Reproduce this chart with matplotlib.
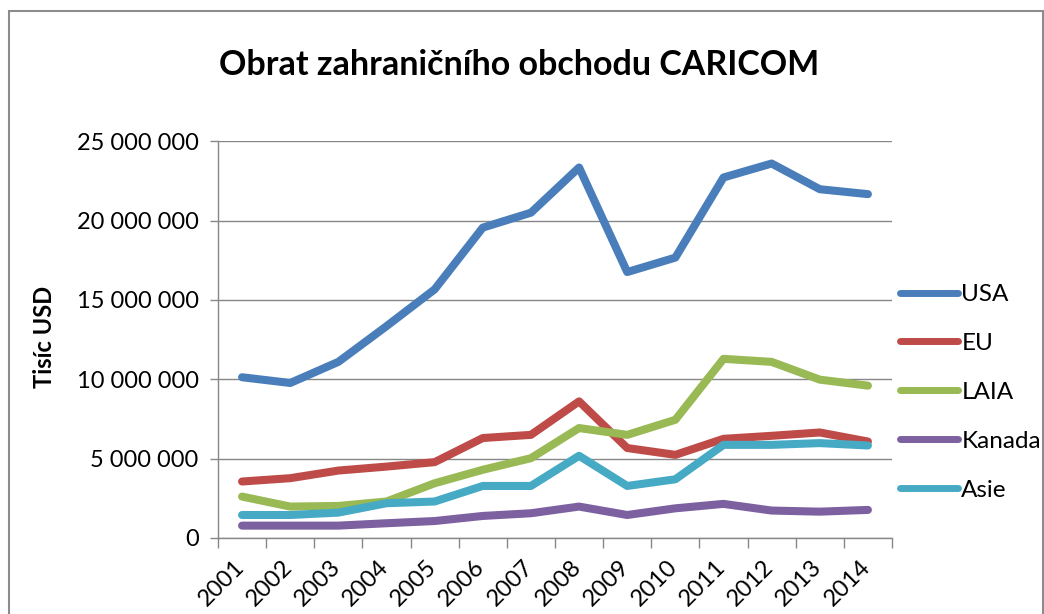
import matplotlib
matplotlib.use("Agg")
import matplotlib.pyplot as plt
import matplotlib.transforms as mtransforms
from matplotlib.patches import Rectangle
from matplotlib.ticker import FuncFormatter, FixedLocator

plt.rcParams['font.family'] = ['Lato', 'DejaVu Sans']

# data (tisíc USD)
years = ['2001', '2002', '2003', '2004', '2005', '2006', '2007',
         '2008', '2009', '2010', '2011', '2012', '2013', '2014']
usa = [10130000, 9770000, 11100000, 13350000, 15670000, 19560000, 20500000,
       23350000, 16760000, 17670000, 22720000, 23600000, 21980000, 21670000]
eu = [3560000, 3770000, 4250000, 4500000, 4780000, 6300000, 6500000,
      8610000, 5670000, 5240000, 6250000, 6440000, 6650000, 6080000]
laia = [2610000, 1980000, 2020000, 2300000, 3450000, 4300000, 5030000,
        6930000, 6500000, 7450000, 11290000, 11100000, 9980000, 9600000]
kanada = [780000, 780000, 780000, 930000, 1070000, 1390000, 1560000,
          1980000, 1450000, 1870000, 2150000, 1730000, 1660000, 1770000]
asie = [1450000, 1450000, 1600000, 2190000, 2300000, 3280000, 3280000,
        5180000, 3280000, 3700000, 5870000, 5870000, 5980000, 5830000]

series = [('USA', usa, '#4A7EBB'), ('EU', eu, '#BE4B48'),
          ('LAIA', laia, '#98B954'), ('Kanada', kanada, '#7D60A0'),
          ('Asie', asie, '#46AAC5')]

W, H = 1044, 614
fig = plt.figure(figsize=(W / 100, H / 100), dpi=100)
ax = fig.add_axes([218 / W, 1 - 538 / H, (892 - 218) / W, (538 - 141.3) / H])

x = list(range(len(years)))
for name, vals, col in series:
    ax.plot(x, vals, color=col, lw=5.8, label=name, solid_capstyle='round',
            solid_joinstyle='round')

grey = '#878787'
ax.set_xlim(-0.5, len(years) - 0.5)
ax.set_ylim(0, 25000000)
ax.set_yticks(range(0, 25000001, 5000000))
ax.yaxis.set_major_formatter(FuncFormatter(lambda v, p: f'{int(v):,}'.replace(',', ' ')))
ax.grid(axis='y', color=grey, lw=1.0)
ax.set_axisbelow(True)

ax.xaxis.set_major_locator(FixedLocator([i - 0.5 for i in range(len(years) + 1)]))
ax.xaxis.set_minor_locator(FixedLocator(x))
ax.set_xticklabels([], minor=False)
ax.set_xticklabels(years, minor=True, rotation=45, ha='right', va='top')
ax.tick_params(axis='x', which='minor', length=0, pad=13, labelsize=17)
ax.tick_params(axis='x', which='major', length=7, color=grey, width=1)
ax.tick_params(axis='y', length=6, color=grey, width=1, labelsize=17, pad=8)
off = mtransforms.ScaledTranslation(6 / 100, 0, fig.dpi_scale_trans)
for lbl in ax.get_xticklabels(minor=True):
    lbl.set_transform(lbl.get_transform() + off)

for s in ['top', 'right']:
    ax.spines[s].set_visible(False)
for s in ['left', 'bottom']:
    ax.spines[s].set_color(grey)
    ax.spines[s].set_linewidth(1.0)

fig.text(519 / W, 1 - 65 / H, 'Obrat zahraničního obchodu CARICOM',
         ha='center', va='center', fontsize=24.5, fontweight='bold')
fig.text(44 / W, 1 - 337 / H, 'Tisíc USD', ha='center', va='center',
         rotation=90, fontsize=17, fontweight='bold')

leg = ax.legend(loc='upper left', bbox_to_anchor=(900 / W, 1 - 284 / H),
                bbox_transform=fig.transFigure, frameon=False, fontsize=17.5,
                handlelength=2.4, handletextpad=0.12, labelspacing=1.15,
                borderaxespad=0, borderpad=0)
for h in leg.get_lines():
    h.set_linewidth(5)

fig.patches.append(Rectangle((9 / W, -0.02), (1042.5 - 9) / W, 1 - 11 / H + 0.02,
                             transform=fig.transFigure, fill=False,
                             edgecolor='#8c8c8c', lw=1.5))

fig.savefig('out.png', dpi=100)
